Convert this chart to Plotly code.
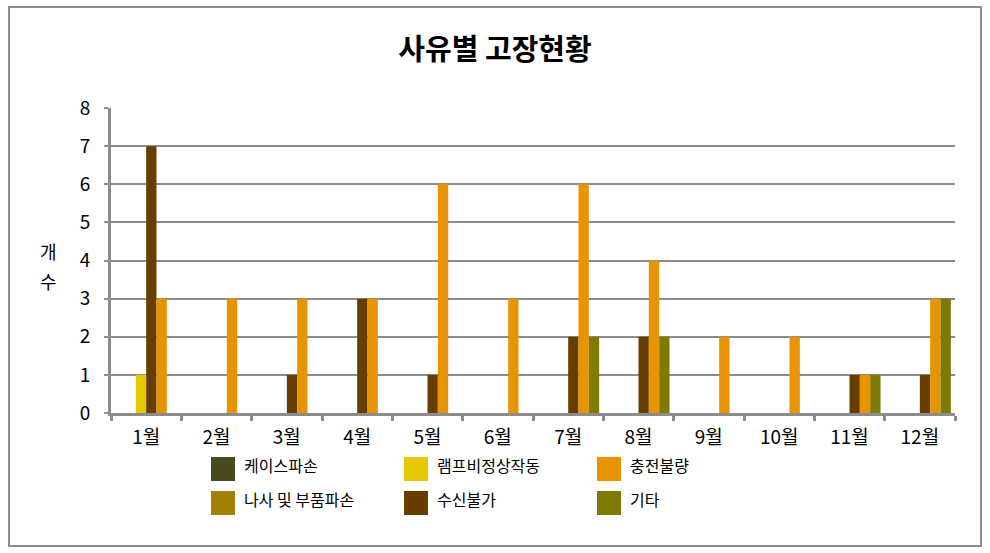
import plotly.graph_objects as go

months = ["1월", "2월", "3월", "4월", "5월", "6월", "7월", "8월", "9월", "10월", "11월", "12월"]

# series in bar-slot order
series_names = ["케이스파손", "나사 및 부품파손", "램프비정상작동", "수신불가", "충전불량", "기타"]
case_broken = [0, 0, 0, 0, 0, 0, 0, 0, 0, 0, 0, 0]
screw_parts = [0, 0, 0, 0, 0, 0, 0, 0, 0, 0, 0, 0]
lamp_fault = [1, 0, 0, 0, 0, 0, 0, 0, 0, 0, 0, 0]
no_receive = [7, 0, 1, 3, 1, 0, 2, 2, 0, 0, 1, 1]
charge_fail = [3, 3, 3, 3, 6, 3, 6, 4, 2, 2, 1, 3]
others = [0, 0, 0, 0, 0, 0, 2, 2, 0, 0, 1, 3]
series_values = [case_broken, screw_parts, lamp_fault, no_receive, charge_fail, others]
series_colors = ["#4B4A1C", "#A67F07", "#E6C800", "#663F00", "#E69500", "#7F7A00"]

# legend layout order (row-wise as displayed)
legend_rows = [["케이스파손", "램프비정상작동", "충전불량"],
               ["나사 및 부품파손", "수신불가", "기타"]]

W, H = 990, 553
L, R, T, B = 111, 955, 108, 413
FONT = "Noto Sans CJK KR"


def px(x):
    return (x - L) / (R - L)


def py(y):
    return (B - y) / (B - T)


fig = go.Figure()
for name, vals, col in zip(series_names, series_values, series_colors):
    fig.add_trace(go.Bar(x=months, y=vals, name=name, marker_color=col,
                         marker_line_width=0, showlegend=False))

shapes = []
annotations = []

# outer border
shapes.append(dict(type="rect", xref="paper", yref="paper",
                   x0=px(9), x1=px(981), y0=py(546), y1=py(7),
                   line=dict(color="#8C8C8C", width=2), fillcolor="rgba(0,0,0,0)", layer="below"))

# manual legend
col_sq_x = [211, 404, 597]
row_sq_y = [457, 491]
color_of = dict(zip(series_names, series_colors))
for r, row in enumerate(legend_rows):
    for c, name in enumerate(row):
        x0 = col_sq_x[c]
        y0 = row_sq_y[r]
        shapes.append(dict(type="rect", xref="paper", yref="paper",
                           x0=px(x0), x1=px(x0 + 24), y0=py(y0 + 24), y1=py(y0),
                           line=dict(width=0), fillcolor=color_of[name]))
        annotations.append(dict(xref="paper", yref="paper", x=px(x0 + 31), y=py(y0 + 8),
                                text=name, showarrow=False, xanchor="left", yanchor="middle",
                                font=dict(family=FONT, size=16, color="#000000")))

# y-axis title (stacked characters)
for ch, yc in zip(["개", "수"], [251, 281]):
    annotations.append(dict(xref="paper", yref="paper", x=px(48), y=py(yc),
                            text=ch, showarrow=False, xanchor="center", yanchor="middle",
                            font=dict(family=FONT, size=18, color="#000000")))

fig.update_layout(
    width=W, height=H,
    margin=dict(l=L, r=W - R, t=T, b=H - B, pad=0),
    paper_bgcolor="white", plot_bgcolor="white",
    barmode="group", bargap=0.118, bargroupgap=0,
    title=dict(text="<b>사유별 고장현황</b>", x=0.5, xanchor="center",
               y=1 - 50 / H, yanchor="middle", yref="container",
               font=dict(family=FONT, size=29, color="#000000")),
    shapes=shapes, annotations=annotations,
    showlegend=False,
    font=dict(family=FONT, color="#000000"),
)

fig.update_xaxes(showline=True, linecolor="#8C8C8C", linewidth=3,
                 ticks="outside", tickson="boundaries", ticklen=5, tickwidth=3, tickcolor="#8C8C8C",
                 showgrid=False, tickfont=dict(family=FONT, size=19, color="#000000"),
                 ticklabelstandoff=5)
fig.update_yaxes(range=[0, 8], dtick=1, showline=True, linecolor="#8C8C8C", linewidth=3,
                 ticks="outside", ticklen=4, tickwidth=2, tickcolor="#8C8C8C",
                 showgrid=True, gridcolor="#8C8C8C", gridwidth=1.5, zeroline=False,
                 tickfont=dict(family=FONT, size=19, color="#000000"),
                 ticklabelstandoff=10)

fig.write_html("out.html", config={"displayModeBar": False},
               post_script="document.body.style.margin='0';")
